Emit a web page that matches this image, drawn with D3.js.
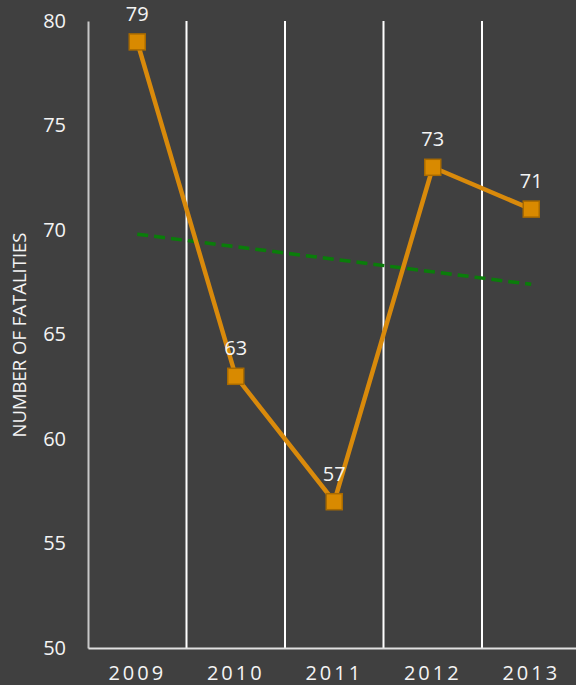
<!DOCTYPE html>
<html>
<head>
<meta charset="utf-8">
<script src="https://cdn.jsdelivr.net/npm/d3@7"></script>
<style>
  html, body { margin: 0; padding: 0; background: #404040; overflow: hidden; }
  text { font-family: "Open Sans", "Noto Sans", sans-serif; }
</style>
</head>
<body>
<div id="chart"></div>
<script>
var years = ["2009", "2010", "2011", "2012", "2013"];
var fatalities = [79, 63, 57, 73, 71];
var trendYears = ["2009", "2013"];
var trendValues = [69.8, 67.4];
var yTicks = [50, 55, 60, 65, 70, 75, 80];

function init() {
    var w = 576;
    var h = 685;
    var left = 88;
    var top = 21;
    var bottom = 648;
    var bandW = 98.5;

    var svg = d3.select("#chart")
        .append("svg")
        .attr("width", w)
        .attr("height", h)
        .style("background", "#404040");

    // Scales
    var xScale = d3.scaleBand()
        .domain(years)
        .range([left, left + bandW * years.length])
        .padding(0);

    var yScale = d3.scaleLinear()
        .domain([50, 80])
        .range([bottom, top]);

    var cx = d => xScale(d) + xScale.bandwidth() / 2;

    // Vertical gridlines between categories
    svg.append("g")
        .selectAll("line")
        .data(years.slice(1))
        .enter()
        .append("line")
        .attr("x1", d => xScale(d))
        .attr("x2", d => xScale(d))
        .attr("y1", top)
        .attr("y2", bottom)
        .attr("stroke", "#ffffff")
        .attr("stroke-width", 2);

    // Y axis
    var yAxis = d3.axisLeft(yScale).tickValues(yTicks).tickSize(0).tickPadding(22);
    var gy = svg.append("g")
        .attr("transform", `translate(${left},0)`)
        .call(yAxis);
    gy.select(".domain").attr("stroke", "#c8c8c8").attr("stroke-width", 2);
    gy.selectAll("text")
        .attr("fill", "#f4f4f4")
        .attr("font-size", "20px")
        .attr("font-family", "'Open Sans', sans-serif");

    // X axis
    var xAxis = d3.axisBottom(xScale).tickSize(0).tickPadding(18);
    var gx = svg.append("g")
        .attr("transform", `translate(0,${bottom})`)
        .call(xAxis);
    gx.select(".domain").attr("stroke", "#e0e0e0").attr("stroke-width", 2);
    gx.selectAll("text")
        .attr("fill", "#f4f4f4")
        .attr("font-size", "20px")
        .attr("font-family", "'Open Sans', sans-serif")
        .style("letter-spacing", "3px");

    // Y axis title
    svg.append("text")
        .attr("transform", "rotate(-90)")
        .attr("x", -335)
        .attr("y", 26)
        .attr("text-anchor", "middle")
        .attr("fill", "#f4f4f4")
        .attr("font-size", "18.5px")
        .text("NUMBER OF FATALITIES");

    // Trend line
    svg.append("line")
        .attr("x1", cx(trendYears[0]))
        .attr("y1", yScale(trendValues[0]))
        .attr("x2", cx(trendYears[1]))
        .attr("y2", yScale(trendValues[1]))
        .attr("stroke", "#0a7d0a")
        .attr("stroke-width", 3.5)
        .attr("stroke-dasharray", "11,6");

    // Data line
    var line = d3.line()
        .x((d, i) => cx(years[i]))
        .y(d => yScale(d));

    svg.append("path")
        .datum(fatalities)
        .attr("d", line)
        .attr("fill", "none")
        .attr("stroke", "#d98a0b")
        .attr("stroke-width", 4.5);

    // Markers
    svg.selectAll("rect.marker")
        .data(fatalities)
        .enter()
        .append("rect")
        .attr("class", "marker")
        .attr("x", (d, i) => cx(years[i]) - 8)
        .attr("y", d => yScale(d) - 8)
        .attr("width", 16)
        .attr("height", 16)
        .attr("fill", "#d98a00")
        .attr("stroke", "#a86a00")
        .attr("stroke-width", 1.5);

    // Data labels
    svg.selectAll("text.label")
        .data(fatalities)
        .enter()
        .append("text")
        .attr("class", "label")
        .attr("x", (d, i) => cx(years[i]))
        .attr("y", d => yScale(d) - 21)
        .attr("text-anchor", "middle")
        .attr("fill", "#f4f4f4")
        .attr("font-size", "20px")
        .text(d => d);
}

window.onload = init;
</script>
</body>
</html>
